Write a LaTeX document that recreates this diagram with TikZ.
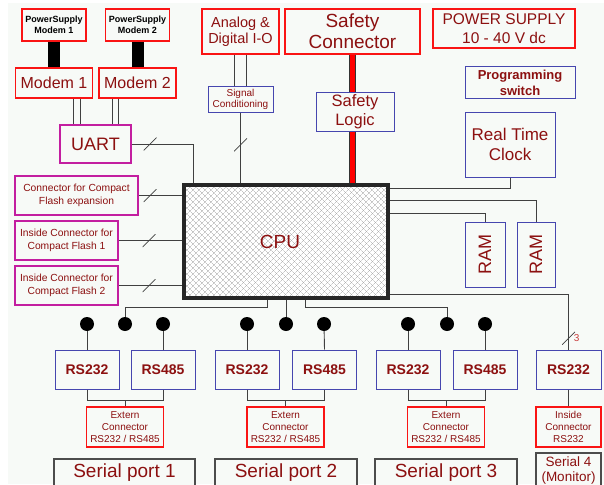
\documentclass[tikz,border=0pt]{standalone}
\usepackage{fontspec}
\setmainfont{Liberation Sans}
\usetikzlibrary{positioning,calc,patterns.meta}
\newcommand{\boxfont}[2]{\fontsize{#1}{#2}\selectfont}
\definecolor{bgpanel}{RGB}{247,250,247}
\definecolor{labelred}{RGB}{140,16,16}
\definecolor{framered}{RGB}{250,20,20}
\definecolor{frameblue}{RGB}{70,70,175}
\definecolor{framemag}{RGB}{195,30,160}
\definecolor{busred}{RGB}{200,60,60}
\tikzset{
  box/.style={align=center, inner sep=1pt, text=labelred, fill=bgpanel},
  redbox/.style={box, draw=framered, line width=1.6pt},
  bluebox/.style={box, draw=frameblue, line width=1pt},
  magbox/.style={box, draw=framemag, line width=1.6pt},
  portbox/.style={box, draw=black!70, line width=1.6pt, font=\boxfont{19}{21}},
  psbox/.style={redbox, text=black, font=\bfseries\boxfont{9}{11}, minimum width=64pt, minimum height=32pt},
  rsbox/.style={bluebox, font=\bfseries\boxfont{14}{16}, minimum width=64pt, minimum height=39pt},
  extbox/.style={redbox, line width=1.4pt, font=\boxfont{10}{12}, minimum width=77pt, minimum height=40pt},
  cfbox/.style={magbox, font=\boxfont{10.3}{13}, minimum height=39pt},
  rambox/.style={bluebox, font=\boxfont{18}{20}, minimum height=65pt},
  wire/.style={draw=black!75, line width=0.9pt},
  powerbar/.style={draw=black, line width=12pt},
  safetybar/.style={draw=black!80, line width=0.8pt, double=red, double distance=5.5pt},
  busmark/.style={inner sep=0pt, minimum size=13pt,
    path picture={\draw[black!75, line width=0.7pt] (path picture bounding box.south west) -- (path picture bounding box.north east);}},
  portdot/.style={circle, fill=black, inner sep=0pt, minimum size=14pt},
  cpubox/.style={draw=black!85, line width=4pt, text=labelred, font=\boxfont{19}{21},
    preaction={fill=white},
    preaction={pattern={Lines[angle=45,distance=4pt,line width=0.35pt]}, pattern color=black!35},
    preaction={pattern={Lines[angle=-45,distance=4pt,line width=0.35pt]}, pattern color=black!35}},
}

\begin{document}
\begin{tikzpicture}[x=1pt, y=-1pt]
  \useasboundingbox (0,0) rectangle (604,484);
  \clip (0,0) rectangle (604,484);
  \fill[white] (0,0) rectangle (604,484);
  \fill[bgpanel] (8,3) rectangle (604,484);

  % Modems and UART
  \node[psbox] (ps1) at (54,25) {PowerSupply\\Modem 1};
  \node[psbox] (ps2) at (137.5,25) {PowerSupply\\Modem 2};
  \node[redbox, minimum width=77pt, minimum height=30pt, font=\boxfont{16}{18}] (m1) at (54,83) {Modem 1};
  \node[redbox, minimum width=77pt, minimum height=30pt, font=\boxfont{16}{18}] (m2) at (137.5,83) {Modem 2};
  \node[magbox, minimum width=71pt, minimum height=38pt, font=\boxfont{18}{20}] (uart) at (95.5,144) {UART};

  % Top I/O
  \node[redbox, minimum width=77pt, minimum height=45pt, font=\boxfont{14.5}{16}] (aio) at (240.5,31.5) {Analog \&\\Digital I-O};
  \node[bluebox, minimum width=65pt, minimum height=25pt, font=\boxfont{10}{11.5}] (sigc) at (240.5,99.5) {Signal\\Conditioning};
  \node[redbox, line width=2.4pt, minimum width=135pt, minimum height=45pt, font=\boxfont{19}{21}] (safe) at (352.5,31.5) {Safety\\Connector};
  \node[bluebox, minimum width=78pt, minimum height=38pt, font=\boxfont{16.5}{19}] (slog) at (355,112) {Safety\\Logic};
  \node[redbox, minimum width=142pt, minimum height=39pt, font=\boxfont{15.5}{19}] (psu) at (504,28.5) {POWER SUPPLY\\10 - 40 V dc};
  \node[bluebox, minimum width=110pt, minimum height=32pt, font=\bfseries\boxfont{13}{16}] (prog) at (520,83) {Programming\\switch};
  \node[bluebox, minimum width=90pt, minimum height=65pt, font=\boxfont{17}{20}] (rtc) at (510,144.5) {Real Time\\Clock};

  % CPU and memory
  \node[cpubox, minimum width=204pt, minimum height=113pt] (cpu) at (286,241.5) {\hspace*{-12pt}CPU};
  \node[cfbox, minimum width=123pt] (cfe) at (76.5,195.5) {Connector for Compact\\Flash expansion};
  \node[cfbox, minimum width=103pt] (cf1) at (66.5,240.5) {Inside Connector for\\Compact Flash 1};
  \node[cfbox, minimum width=103pt] (cf2) at (66.5,285.5) {Inside Connector for\\Compact Flash 2};
  \node[rambox, minimum width=40pt] (ram1) at (485,254.5) {\rotatebox{90}{RAM}};
  \node[rambox, minimum width=38pt] (ram2) at (536,254.5) {\rotatebox{90}{RAM}};

  % Serial ports
  \node[portdot] (d11) at (87,324) {};
  \node[portdot] (d12) at (125,324) {};
  \node[portdot] (d13) at (163,324) {};
  \node[portdot] (d21) at (247,324) {};
  \node[portdot] (d22) at (286,324) {};
  \node[portdot] (d23) at (324,324) {};
  \node[portdot] (d31) at (408,324) {};
  \node[portdot] (d32) at (447,324) {};
  \node[portdot] (d33) at (485,324) {};

  \node[rsbox] (rs11) at (87,369.5) {RS232};
  \node[rsbox] (rs12) at (163,369.5) {RS485};
  \node[rsbox] (rs21) at (247,369.5) {RS232};
  \node[rsbox] (rs22) at (324.5,369.5) {RS485};
  \node[rsbox] (rs31) at (408,369.5) {RS232};
  \node[rsbox] (rs32) at (485,369.5) {RS485};
  \node[rsbox, minimum width=65pt] (rs4) at (568.5,369.5) {RS232};

  \node[extbox] (ext1) at (125,427) {Extern\\Connector\\RS232 / RS485};
  \node[extbox] (ext2) at (285.5,427) {Extern\\Connector\\RS232 / RS485};
  \node[extbox] (ext3) at (446,427) {Extern\\Connector\\RS232 / RS485};
  \node[extbox, minimum width=65pt] (ins4) at (568.5,427) {Inside\\Connector\\RS232};

  \node[portbox, minimum width=141pt, minimum height=28pt] (sp1) at (124.5,473) {Serial port 1};
  \node[portbox, minimum width=142pt, minimum height=28pt] (sp2) at (286,473) {Serial port 2};
  \node[portbox, minimum width=142pt, minimum height=28pt] (sp3) at (446,473) {Serial port 3};
  \node[portbox, minimum width=65pt, minimum height=34pt, font=\boxfont{13.5}{15}] (sp4) at (568.5,470) {Serial 4\\(Monitor)};

  % Connections top
  \draw[powerbar] (ps1.south) -- (m1.north);
  \draw[powerbar] (ps2.south) -- (m2.north);
  \draw[wire] ([xshift=19.5pt]m1.south) -- ([xshift=19.5pt]m1.south |- uart.north);
  \draw[wire] ([xshift=26pt]m1.south) -- ([xshift=26pt]m1.south |- uart.north);
  \draw[wire] ([xshift=-25.5pt]m2.south) -- ([xshift=-25.5pt]m2.south |- uart.north);
  \draw[wire] ([xshift=-19.5pt]m2.south) -- ([xshift=-19.5pt]m2.south |- uart.north);
  \draw[wire] (uart.east) -| ([xshift=11pt]cpu.north west) node[busmark, pos=0.15] {};
  \draw[wire] ([xshift=-6pt]aio.south) -- ([xshift=-6pt]aio.south |- sigc.north);
  \draw[wire] ([xshift=6pt]aio.south) -- ([xshift=6pt]aio.south |- sigc.north);
  \draw[wire] (sigc.south) -- (sigc.south |- cpu.north) node[busmark, pos=0.46] {};
  \draw[safetybar] (safe.south) -- (safe.south |- slog.north);
  \draw[safetybar] (safe.south |- slog.south) -- (safe.south |- cpu.north);
  \draw[wire] (rtc.south) |- ([yshift=-5pt]cpu.north east);
  \draw[wire] ([yshift=-17pt]cpu.north east) -| (ram2.north);
  \draw[wire] ([yshift=-30pt]cpu.north east) -| (ram1.north);

  % Connections left
  \draw[wire] (cfe.east) -- (cfe.east -| cpu.west) node[busmark, pos=0.26] {};
  \draw[wire] (cf1.east) -- (cf1.east -| cpu.west) node[busmark, pos=0.48] {};
  \draw[wire] (cf2.east) -- (cf2.east -| cpu.west) node[busmark, pos=0.48] {};

  % Connections bottom
  \draw[wire] ([xshift=-19pt]cpu.south) -- ++(0,7) -| (d12.north);
  \draw[wire] (cpu.south) -- (d22.north);
  \draw[wire] ([xshift=19pt]cpu.south) -- ++(0,7) -| (d32.north);
  \draw[wire] ([yshift=6pt]cpu.south east) -| (rs4.north)
    node[busmark, pos=0.9] {}
    node[pos=0.9, right=5pt, inner sep=0pt, text=busred, font=\boxfont{10}{11}] {3};

  \draw[wire] (d11) -- (rs11.north);
  \draw[wire] (d13) -- (rs12.north);
  \draw[wire] (d21) -- (rs21.north);
  \draw[wire] (d23) -- (rs22.north);
  \draw[wire] (d31) -- (rs31.north);
  \draw[wire] (d33) -- (rs32.north);

  \draw[wire] (rs11.south) -- ++(0,11) coordinate (j1) -| (rs12.south);
  \draw[wire] (ext1.north) -- (ext1.north |- j1);
  \draw[wire] (rs21.south) -- ++(0,11) coordinate (j2) -| (rs22.south);
  \draw[wire] (ext2.north) -- (ext2.north |- j2);
  \draw[wire] (rs31.south) -- ++(0,11) coordinate (j3) -| (rs32.south);
  \draw[wire] (ext3.north) -- (ext3.north |- j3);
  \draw[wire] (rs4) -- (ins4);
\end{tikzpicture}
\end{document}
